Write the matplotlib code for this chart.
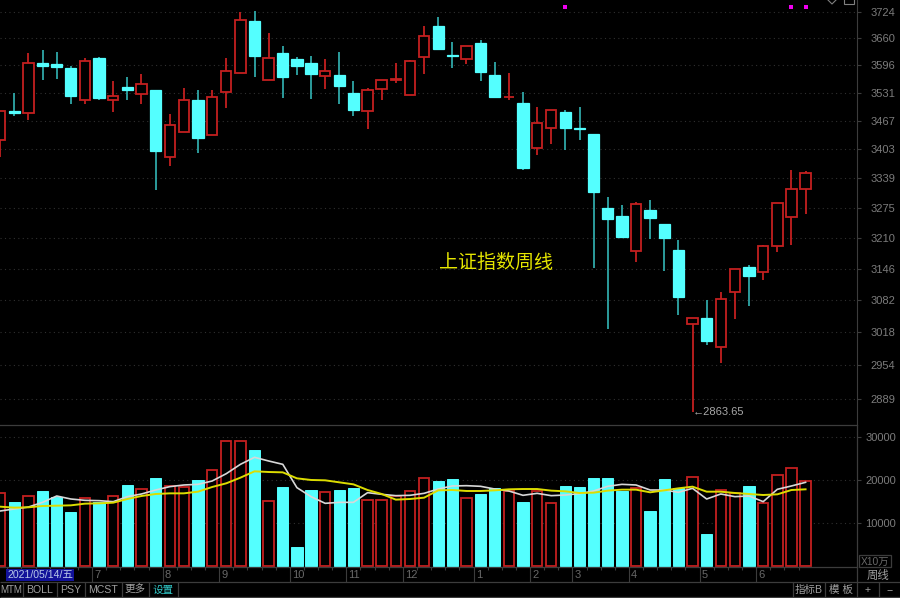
import matplotlib
matplotlib.use('Agg')
import matplotlib.pyplot as plt
import numpy as np

plt.rcParams['font.family'] = ['Liberation Sans', 'Noto Sans CJK SC', 'DejaVu Sans']

# weekly bars
opens = [3423,3490,3485,3601,3598,3589,3516,3614,3516,3546,3529,3539,3385,3442,3515,3436,3534,3579,3702,3562,
         3626,3610,3601,3572,3574,3531,3490,3541,3562,3527,3615,3689,3621,3612,3650,3574,3521,3508,3407,3451,
         3487,3451,3437,3274,3257,3184,3270,3241,3186,3034,3046,2990,3100,3150,3141,3195,3256,3315]
highs = [3490,3531,3625,3632,3627,3594,3614,3615,3558,3569,3576,3539,3483,3543,3539,3539,3614,3723,3726,3672,
         3641,3615,3617,3610,3627,3560,3543,3562,3601,3608,3689,3711,3651,3641,3655,3604,3578,3533,3498,3492,
         3493,3500,3438,3299,3282,3287,3292,3241,3207,3047,3083,3100,3147,3155,3196,3286,3358,3356]
lows = [3385,3479,3470,3562,3564,3505,3505,3515,3487,3515,3507,3313,3367,3442,3394,3436,3497,3579,3569,3562,
        3519,3573,3517,3541,3505,3478,3448,3515,3555,3527,3575,3634,3590,3598,3560,3521,3515,3357,3390,3415,
        3401,3425,3149,3025,3211,3160,3208,3142,3052,2863.65,2993,2958,3044,3071,3124,3182,3197,3262]
closes = [3490,3486,3601,3594,3591,3525,3607,3519,3524,3539,3551,3399,3457,3516,3428,3522,3583,3705,3617,3613,
          3569,3594,3575,3583,3547,3492,3538,3561,3565,3607,3666,3634,3618,3641,3581,3522,3523,3362,3463,3491,
          3452,3449,3309,3252,3213,3283,3254,3211,3088,3047,3001,3084,3147,3131,3195,3285,3316,3350]
volumes = [16840,14900,16300,17390,15910,12410,15830,14900,16300,18790,17930,20420,18630,18240,19880,22210,29060,29060,26880,15130,
           18320,4240,17620,17230,17620,18010,15210,15210,16220,17470,20340,19720,20110,15830,16610,18170,17470,14740,17470,14660,
           18480,18240,20500,20340,17390,18170,12640,20190,18170,20580,7270,17700,17000,18560,14590,21200,22680,19800]
ma_white = [12720,13190,13650,14740,16220,15520,15210,15130,14900,16070,16690,17620,18400,18790,18940,19720,21430,23610,25250,24390,
            23610,18170,16070,14510,14740,14740,17000,16610,16300,16380,16840,17850,18560,18630,18480,17850,17390,16380,16840,16300,
            16450,16770,17390,18480,18940,18790,17620,17620,17080,18010,15520,16690,16070,16220,14900,17780,18560,19410]
ma_yellow = [13730,13500,13580,13890,13960,14040,14430,14510,14660,15520,16220,16690,16840,16840,17230,18320,19180,20500,21980,21820,
             21740,20340,19960,19880,19410,18940,17620,16690,15370,15520,15830,17540,17620,17390,17390,17540,17780,17850,17850,17470,
             17310,16920,17000,17470,17700,17700,17080,17540,18010,18400,17230,17230,16920,16690,16450,16610,17620,17780]

price_ticks = [3724,3660,3596,3531,3467,3403,3339,3275,3210,3146,3082,3018,2954,2889]
vol_ticks = [10000,20000,30000]
month_labels = ['7','8','9','10','11','12','1','2','3','4','5','6']
month_starts = [7,12,16,21,25,29,34,38,41,45,50,54]
marked_bars = [40,56,57]
marked_price = 3735.5
low_label = '←2863.65'

BG = '#000000'
CYAN = '#54FFFF'
CYAN_WICK = '#2FA8A8'
RED = '#C42020'
AXIS = '#3c3c3c'
GRID = '#303030'
LABEL = '#7c7c7c'
W, H = 900, 598

fig = plt.figure(figsize=(9, 5.98), dpi=100, facecolor=BG)

# chrome drawn in pixel coordinates
ui = fig.add_axes([0, 0, 1, 1], zorder=5)
ui.set_xlim(0, W)
ui.set_ylim(H, 0)
ui.axis('off')
ui.patch.set_alpha(0)

ax = fig.add_axes([0, 1 - 424 / H, 857 / W, 424 / H], facecolor=BG)
vol = fig.add_axes([0, 1 - 567 / H, 857 / W, 142 / H], facecolor=BG)

x = np.arange(len(opens))
up = np.array(closes) >= np.array(opens)
o = np.array(opens, dtype=float)
c = np.array(closes, dtype=float)

# candles
ax.set_yscale('log')
ax.vlines(x[up], np.array(lows)[up], np.array(highs)[up], color=RED, lw=1.3, zorder=2)
ax.vlines(x[~up], np.array(lows)[~up], np.array(highs)[~up], color=CYAN_WICK, lw=1.3, zorder=2)
ax.bar(x[up], (c - o)[up], bottom=o[up], width=0.74, facecolor=BG, edgecolor=RED, lw=1.3, zorder=3)
ax.bar(x[~up], (o - c)[~up], bottom=c[~up], width=0.8, facecolor=CYAN, edgecolor=CYAN, lw=0.9, zorder=3)
ax.scatter(marked_bars, [marked_price] * len(marked_bars), marker='s', s=5, color='#F000F0', lw=0, zorder=4)
ax.annotate(low_label, xy=(x[49], lows[49]), xytext=(0, 0), textcoords='offset points',
            color='#a8a8a8', fontsize=8, va='center', ha='left')

ax.set_xlim(-0.014, 60.64)
ax.set_ylim(2842, 3753.4)
ax.set_xticks([])
ax.minorticks_off()
ax.yaxis.tick_right()
ax.set_yticks(price_ticks)
ax.set_yticklabels([str(t) for t in price_ticks])
ax.yaxis.set_minor_locator(matplotlib.ticker.NullLocator())
ax.tick_params(axis='y', colors=LABEL, labelsize=8, length=3, width=0.8, color=AXIS, pad=7)
ax.grid(axis='y', color=GRID, ls=(0, (1, 3)), lw=0.8, zorder=0)
ax.set_axisbelow(True)
for side in ['top', 'left', 'bottom']:
    ax.spines[side].set_visible(False)
ax.spines['right'].set_color(AXIS)

ax.text(496, 262, '上证指数周线', transform=ui.transData, color='#E6E600', fontsize=13.7,
        family=['Noto Sans CJK SC', 'DejaVu Sans'], ha='center', va='center')

# volume panel
vol.bar(x[up], np.array(volumes)[up], width=0.74, facecolor=BG, edgecolor=RED, lw=1.3, zorder=2)
vol.bar(x[~up], np.array(volumes)[~up], width=0.8, facecolor=CYAN, edgecolor=CYAN, lw=0.7, zorder=2)
vol.plot(x, ma_white, color='#D8D8D8', lw=1.2, zorder=3)
vol.plot(x, ma_yellow, color='#DCDC00', lw=1.4, zorder=4)
vol.set_xlim(-0.014, 60.64)
vol.set_ylim(-350, 32790)
vol.yaxis.tick_right()
vol.set_yticks(vol_ticks)
vol.set_yticklabels([str(t) for t in vol_ticks])
vol.tick_params(axis='y', colors=LABEL, labelsize=8, length=3, width=0.8, color=AXIS, pad=3)
vol.grid(axis='y', color=GRID, ls=(0, (1, 3)), lw=0.8, zorder=0)
vol.set_axisbelow(True)
vol.set_xticks(np.array(month_starts) - 0.5)
vol.set_xticklabels([])
vol.set_xticks(x[1:] - 0.5, minor=True)
vol.tick_params(axis='x', which='major', length=11, width=0.8, color=AXIS)
vol.tick_params(axis='x', which='minor', length=2, width=0.8, color=AXIS)
for side in ['left']:
    vol.spines[side].set_visible(False)
for side in ['top', 'right', 'bottom']:
    vol.spines[side].set_color(AXIS)
    vol.spines[side].set_linewidth(0.9)
for lab, pos in zip(month_labels, month_starts):
    vol.annotate(lab, xy=(pos - 0.5, 0), xycoords=vol.get_xaxis_transform(), xytext=(1.5, -6),
                 textcoords='offset points', color='#686868', fontsize=8, va='center', ha='left')

# bottom strip
ui.hlines(582, 0, W, color=AXIS, lw=0.9)
ui.hlines(597, 0, W, color=AXIS, lw=0.9)
ui.vlines([23, 57, 85, 122, 149, 178, 793, 825, 879], 582, 597, color=AXIS, lw=0.9)
ui.vlines(857, 567, 597, color=AXIS, lw=0.9)
ui.add_patch(plt.Rectangle((6, 569), 68, 12, facecolor='#12129A', edgecolor='none'))
ui.text(40, 575, '2021/05/14/五', color='#B8C8E8', fontsize=7.6, ha='center', va='center')
tab_names = ['MTM', 'BOLL', 'PSY', 'MCST', '更多', '设置', '指标B', '模 板', '+', '−']
tab_centers = [11.5, 40, 71, 103, 135, 163, 809, 841, 868, 890]
tab_sizes = [7.0, 7.6, 7.6, 7.6, 7.6, 7.6, 7.6, 7.6, 7.6, 7.6]
tab_colors = ['#a0a0a0'] * 5 + ['#30C8C8'] + ['#a0a0a0'] * 4
for name, cx, size, col in zip(tab_names, tab_centers, tab_sizes, tab_colors):
    ui.text(cx, 590, name, color=col, fontsize=size, ha='center', va='center')
ui.text(878, 575, '周线', color='#a0a0a0', fontsize=8.2, ha='center', va='center')
ui.add_patch(plt.Rectangle((859, 555), 32, 12, facecolor='none', edgecolor=AXIS, lw=0.9))
ui.text(875, 561.5, 'X10万', color='#686868', fontsize=7.4, ha='center', va='center')

# small icons at the top edge
ui.plot([828, 832, 836], [0, 4, 0], color='#808080', lw=0.8)
ui.add_patch(plt.Rectangle((844, -2), 10, 6, facecolor='none', edgecolor='#808080', lw=0.8))

fig.savefig('out.png', dpi=100, facecolor=BG)
